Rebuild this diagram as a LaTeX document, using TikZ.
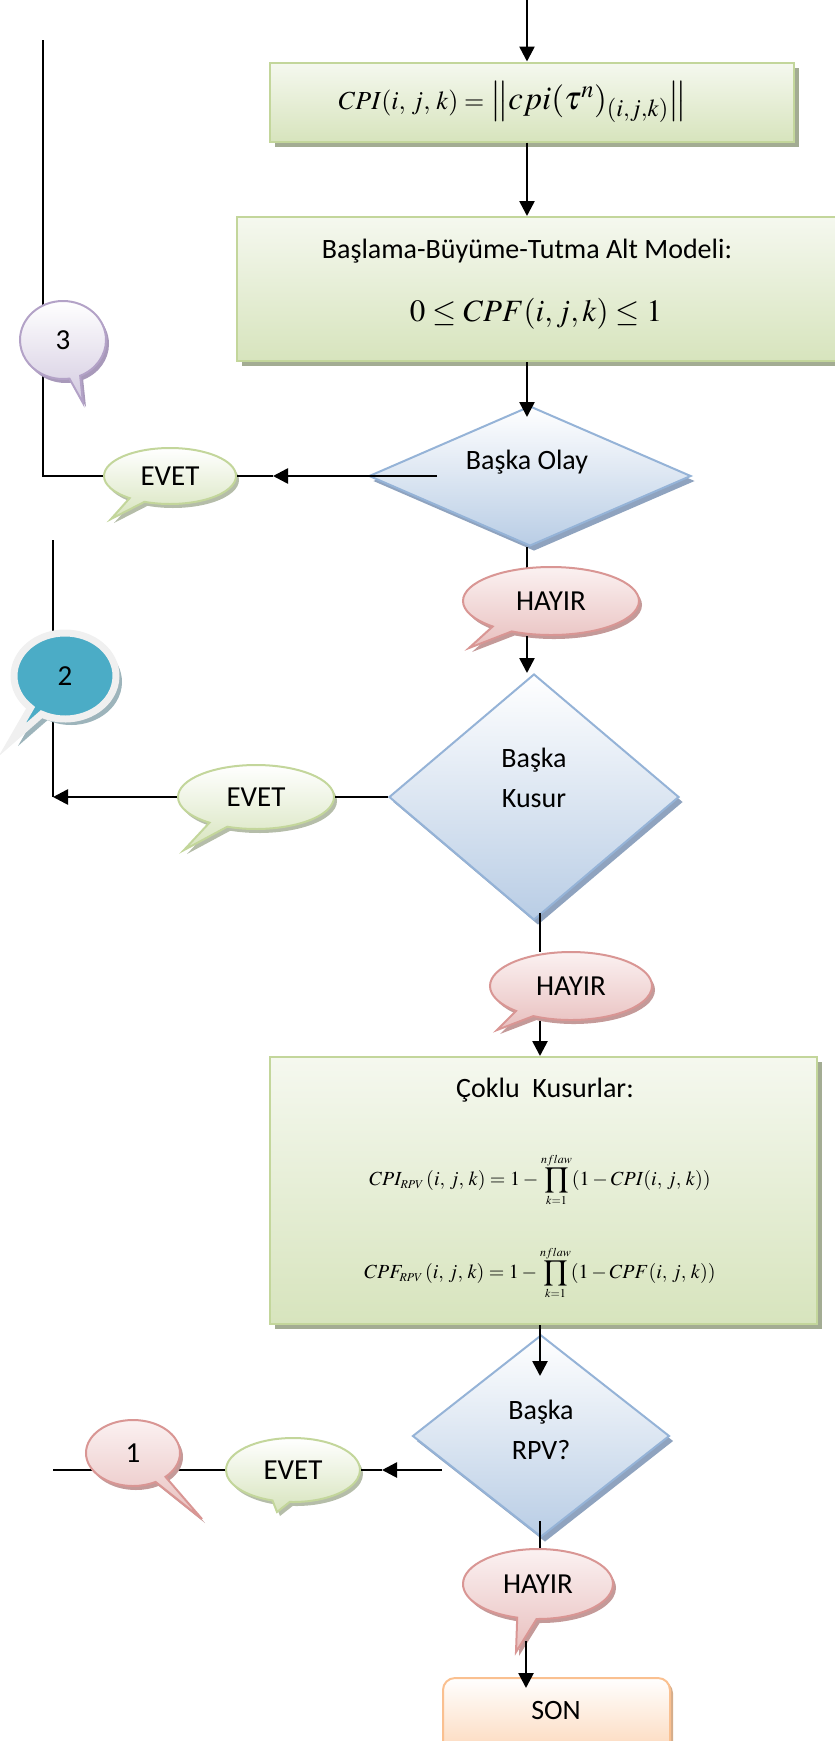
\documentclass[tikz,border=0pt]{standalone}
\usepackage{amsmath}
\usepackage{mathptmx}
\usepackage[no-math]{fontspec}
\setmainfont{Carlito}
\usetikzlibrary{arrows.meta,calc,shapes.geometric,shapes.callouts,shadows}

\definecolor{boxline}{HTML}{C3D69B}
\definecolor{boxtop}{HTML}{F5F8EF}
\definecolor{boxbottom}{HTML}{D7E4BD}
\definecolor{boxshade}{HTML}{A3AC93}
\definecolor{decline}{HTML}{95B3D7}
\definecolor{decbottom}{HTML}{B9CDE5}
\definecolor{decshade}{HTML}{8FA3BF}
\definecolor{noline}{HTML}{D99694}
\definecolor{notop}{HTML}{FBF1F1}
\definecolor{nobottom}{HTML}{E8BFBE}
\definecolor{noshade}{HTML}{C49A99}
\definecolor{lilacline}{HTML}{B3A2C7}
\definecolor{lilacbottom}{HTML}{D3CAE0}
\definecolor{lilacshade}{HTML}{A899BA}
\definecolor{conteal}{HTML}{4BACC6}
\definecolor{tealring}{HTML}{F0F0F0}
\definecolor{tealshade}{HTML}{9DB4BB}
\definecolor{endline}{HTML}{FAC090}
\definecolor{endbottom}{HTML}{FCD5B5}

\tikzset{
    lbl/.style={font=\fontsize{28}{40}\selectfont, align=center},
    arr/.style={line width=2.6pt, -{Triangle[length=15pt,width=15pt]}},
    flow/.style={line width=2.6pt},
    backline/.style={line width=2pt},
    greenbox/.style={rectangle, draw=boxline, line width=2pt, top color=boxtop, bottom color=boxbottom,
        drop shadow={shadow xshift=5pt, shadow yshift=-5pt, fill=boxshade, opacity=1}, inner sep=0pt},
    decision/.style={diamond, draw=decline, line width=2pt, top color=white, bottom color=decbottom,
        drop shadow={shadow xshift=4pt, shadow yshift=-5pt, fill=decshade, opacity=1}, inner sep=0pt},
    bubble/.style={ellipse callout, line width=2pt, inner sep=0pt, font=\fontsize{29}{34}\selectfont},
    yesbubble/.style={bubble, draw=boxline, top color=white, bottom color=boxbottom,
        drop shadow={shadow xshift=3pt, shadow yshift=-4pt, fill=boxshade!80, opacity=1}},
    nobubble/.style={bubble, draw=noline, top color=notop, bottom color=nobottom,
        drop shadow={shadow xshift=3pt, shadow yshift=-4pt, fill=noshade, opacity=1}},
    lilacbubble/.style={bubble, draw=lilacline, top color=white, bottom color=lilacbottom,
        drop shadow={shadow xshift=3pt, shadow yshift=-4pt, fill=lilacshade, opacity=1}},
    tealbubble/.style={bubble, draw=tealring, line width=7pt, fill=conteal,
        drop shadow={shadow xshift=6pt, shadow yshift=-6pt, fill=tealshade, opacity=1}},
    endbox/.style={rectangle, rounded corners=12pt, draw=endline, line width=2pt, top color=white, bottom color=endbottom,
        drop shadow={shadow xshift=3pt, shadow yshift=-3pt, fill=endline!70!gray, opacity=1}}
}

\begin{document}
\begin{tikzpicture}[x=1pt,y=-1pt]
    \useasboundingbox (0,0) rectangle (835,1741);
    % Flow lines of the chart
    \coordinate (start) at (527,0);
    \coordinate (axis) at (540,0);

    % Boxes and decisions
    \node[greenbox, minimum width=524pt, minimum height=79pt] (cpi) at (532,102) {};
    \node (cpitxt) at (513,102) {{\fontsize{26}{30}\selectfont$CPI(i,\,j,\,k)=\;$}{\fontsize{33}{40}\selectfont$\left\|cpi(\tau^{n})_{(i,j,k)}\right\|$}};
    \node[greenbox, minimum width=623pt, minimum height=144pt] (model) at (548.5,289) {};
    \node[lbl] (modeltitle) at (527,251) {Başlama-Büyüme-Tutma Alt Modeli:};
    \node[font=\fontsize{31}{38}\selectfont] (modelmath) at (536,314) {$0\le CPF(i,j,k)\le 1$};
    \node[decision, minimum width=322pt, minimum height=140pt] (olay) at (530,476) {};
    \node[lbl] (olaytxt) at (527,462) {Başka Olay};
    \node[decision, minimum width=290pt, minimum height=246pt] (kusur) at (534,797) {};
    \node[lbl] (kusurtxt) at (534,778) {Başka\\Kusur};
    \node[greenbox, minimum width=547pt, minimum height=267pt] (multi) at (543.5,1190.5) {};
    \node[lbl] (multititle) at (545,1090) {Çoklu\ \ Kusurlar:};
    \node[font=\fontsize{20}{24}\selectfont] (eqcpi) at (540,1180)
        {$\displaystyle CPI_{\scriptscriptstyle RPV}\,(i,\,j,\,k)=1-\prod_{\scriptscriptstyle k=1}^{\scriptscriptstyle nflaw}(1-CPI(i,\,j,\,k))$};
    \node[font=\fontsize{20}{24}\selectfont] (eqcpf) at (540,1273)
        {$\displaystyle CPF_{\scriptscriptstyle RPV}\,(i,\,j,\,k)=1-\prod_{\scriptscriptstyle k=1}^{\scriptscriptstyle nflaw}(1-CPF(i,\,j,\,k))$};
    \node[decision, minimum width=257pt, minimum height=202pt] (rpv) at (541,1436) {};
    \node[lbl] (rpvtxt) at (541,1430) {Başka\\RPV?};
    \node[endbox, minimum width=227pt, minimum height=82pt] (son) at (556.5,1719) {};
    \node[lbl] (sontxt) at (556,1710) {SON};

    % Main flow
    \draw[arr] (start) -- (start |- cpi.north);
    \draw[arr] (start |- cpi.south) -- (start |- model.north);
    \draw[arr] (start |- model.south) -- ($(start |- olay.north)+(0,12)$);

    % Back to 3
    \coordinate (p1) at (111,519);
    \node[yesbubble, minimum width=132pt, minimum height=56pt, callout absolute pointer={(p1)}] (evet1) at (170,476) {EVET};
    \draw[arr] ($(olay.west)+(69,0)$) -- ($(evet1.east)+(36,0)$);
    \draw[flow] ($(evet1.east)+(36,0)$) -- (evet1.east);
    \coordinate (back3) at (43,40);
    \draw[backline] (evet1.west) -- (evet1.west -| back3) -- (back3);
    \coordinate (p3) at (83,403);
    \node[lilacbubble, minimum width=86pt, minimum height=78pt, callout absolute pointer={(p3)}] (con3) at (63,340) {3};

    \coordinate (p2a) at (469,648);
    \draw[flow] (start |- olay.south) -- (start |- 0,568);
    \node[nobubble, minimum width=176pt, minimum height=68pt, callout absolute pointer={(p2a)}] (hayir1) at (551,601) {HAYIR};
    \draw[arr] (start |- hayir1.south) -- (start |- kusur.north);

    % Back to 2
    \coordinate (p2b) at (184,850);
    \node[yesbubble, minimum width=156pt, minimum height=64pt, callout absolute pointer={(p2b)}] (evet2) at (256,797) {EVET};
    \draw[flow] (kusur.west) -- (evet2.east);
    \coordinate (back2) at (53,540);
    \draw[arr] (evet2.west) -- (evet2.west -| back2);
    \draw[backline] (evet2.west -| back2) -- (back2);
    \coordinate (p2c) at (12,740);
    \node[tealbubble, minimum width=102pt, minimum height=86pt, callout absolute pointer={(p2c)}] (con2) at (65,676) {2};

    \draw[flow] ($(axis |- kusur.south)+(0,-8)$) -- (axis |- 0,952);
    \coordinate (p2d) at (497,1030);
    \node[nobubble, minimum width=162pt, minimum height=68pt, callout absolute pointer={(p2d)}] (hayir2) at (571,986) {HAYIR};
    \draw[arr] (axis |- hayir2.south) -- (axis |- multi.north);
    \draw[arr] (axis |- multi.south) -- ($(axis |- rpv.north)+(0,42)$);

    % Back to 1
    \coordinate (p3b) at (277,1512);
    \node[yesbubble, minimum width=134pt, minimum height=64pt, callout absolute pointer={(p3b)}] (evet3) at (293,1470) {EVET};
    \draw[arr] ($(rpv.west)+(30,34)$) -- ($(evet3.east)+(21,0)$);
    \draw[flow] ($(evet3.east)+(21,0)$) -- (evet3.east);
    \coordinate (back1) at (53,1470);
    \draw[backline] (evet3.west) -- (back1);
    \coordinate (p1b) at (202,1519);
    \node[nobubble, minimum width=94pt, minimum height=66pt, callout absolute pointer={(p1b)}] (con1) at (133,1453) {1};

    % End
    \draw[arr] ($(axis |- rpv.south)+(0,-17)$) -- (axis |- 0,1565);
    \coordinate (p3c) at (516,1652);
    \node[nobubble, minimum width=150pt, minimum height=70pt, callout absolute pointer={(p3c)}] (hayir3) at (538,1584) {HAYIR};
    \draw[arr] ($(hayir3.south)+(-12,21)$) -- ($(son.north)+(-30.5,11)$);
\end{tikzpicture}
\end{document}
